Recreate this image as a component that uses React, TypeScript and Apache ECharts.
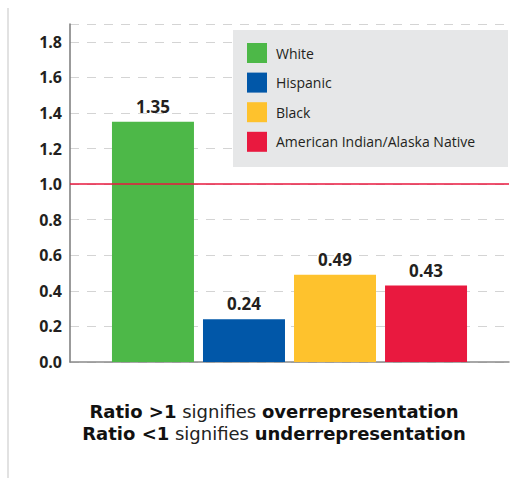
import React, { useEffect, useRef } from "react";
import * as echarts from "echarts";

const groups = ["White", "Hispanic", "Black", "American Indian/Alaska Native"];
const ratios = [1.35, 0.24, 0.49, 0.43];
const colors = ["#4db848", "#0157a8", "#fec22d", "#e9193f"];
const yTicks = [0, 0.2, 0.4, 0.6, 0.8, 1.0, 1.2, 1.4, 1.6, 1.8];
const referenceLine = 1.0;
const noteLines = [
  { strong: "Ratio >1", plain: " signifies ", strong2: "overrepresentation" },
  { strong: "Ratio <1", plain: " signifies ", strong2: "underrepresentation" },
];

const FONT = "Open Sans";
const NOTE_FONT = "DejaVu Sans";

export default function App() {
  const ref = useRef<HTMLDivElement>(null);
  useEffect(() => {
    if (!ref.current) return;
    const chart = echarts.init(ref.current, null, { renderer: "svg" });
    const series: any[] = groups.map((g, i) => ({
      name: g,
      type: "bar",
      data: [ratios[i]],
      barWidth: 82,
      barGap: "11%",
      itemStyle: { color: colors[i] },
      label: {
        show: true,
        position: "top",
        distance: 7,
        fontFamily: FONT,
        fontWeight: "bold",
        fontSize: 17,
        color: "#231f20",
        formatter: (p: any) => p.value.toFixed(2),
      },
      z: 3,
    }));
    series[0].markLine = {
      silent: true,
      symbol: ["none", "none"],
      label: { show: false },
      lineStyle: { color: "#e9193f", width: 1.5, type: "solid" },
      data: [{ yAxis: referenceLine }],
      z: 5,
    };
    chart.setOption({
      animation: false,
      grid: { left: 70, right: 19, top: 24, bottom: 116 },
      xAxis: {
        type: "category",
        data: [""],
        axisLine: { show: true, lineStyle: { color: "#8a8a8a", width: 1.5 } },
        axisTick: { show: false },
        axisLabel: { show: false },
      },
      yAxis: {
        type: "value",
        min: 0,
        max: 1.9,
        interval: 0.2,
        axisLine: { show: true, lineStyle: { color: "#7a7a7a", width: 1.5 } },
        axisTick: { show: false },
        splitLine: {
          show: true,
          lineStyle: { color: "#d4d4d4", type: [9, 8], width: 1 },
        },
        axisLabel: {
          margin: 8,
          fontFamily: FONT,
          fontWeight: "bold",
          fontSize: 16,
          color: "#231f20",
          formatter: (v: number) => {
            const t = yTicks.find((x) => Math.abs(x - v) < 1e-6);
            return t === undefined ? "" : t.toFixed(1);
          },
        },
      },
      legend: {
        orient: "vertical",
        left: 242,
        top: 38,
        padding: 5,
        itemWidth: 20,
        itemHeight: 20,
        itemGap: 9.6,
        icon: "rect",
        data: groups,
        textStyle: {
          fontFamily: FONT,
          fontSize: 14,
          color: "#231f20",
          padding: [0, 0, 0, 4],
        },
        z: 6,
      },
      graphic: [
        {
          type: "rect",
          shape: { x: 233, y: 30, width: 275, height: 137 },
          style: { fill: "#e6e7e8" },
          z: 4,
          silent: true,
        },
        {
          type: "line",
          shape: { x1: 8, y1: 8, x2: 8, y2: 478 },
          style: { stroke: "#e2e2e2", lineWidth: 2 },
          silent: true,
        },
        ...noteLines.map((ln, i) => ({
          type: "text",
          x: 274,
          y: 411 + i * 22,
          style: {
            text: `{b|${ln.strong}}{r|${ln.plain}}{b|${ln.strong2}}`,
            align: "center",
            verticalAlign: "middle",
            rich: {
              b: { fontFamily: NOTE_FONT, fontWeight: "bold", fontSize: 18, lineHeight: 20, fill: "#111" },
              r: { fontFamily: NOTE_FONT, fontWeight: "normal", fontSize: 18, lineHeight: 20, fill: "#222" },
            },
          },
          silent: true,
        })),
      ],
      series,
    });
    return () => chart.dispose();
  }, []);
  return (
    <div
      ref={ref}
      style={{ position: "fixed", left: 0, top: 0, width: 528, height: 478, background: "#fff" }}
    />
  );
}
